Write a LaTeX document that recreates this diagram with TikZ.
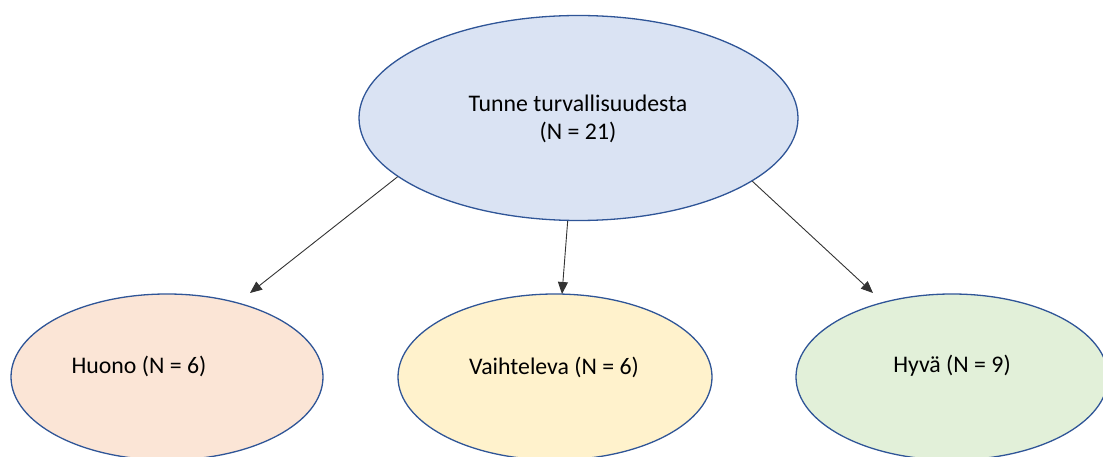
\documentclass[tikz,border=0pt]{standalone}
\usepackage{fontspec}
\setmainfont{Carlito}
\usetikzlibrary{shapes.geometric,arrows.meta}
\definecolor{edgeblue}{HTML}{2F5597}
\definecolor{fillblue}{HTML}{DAE3F3}
\definecolor{fillpeach}{HTML}{FBE5D6}
\definecolor{fillyellow}{HTML}{FFF2CC}
\definecolor{fillgreen}{HTML}{E2F0D9}
\tikzset{
  oval/.style={ellipse, draw=edgeblue, line width=1.3pt, inner sep=0pt},
  lbl/.style={font=\fontsize{23.8}{28.5}\selectfont, align=center, inner sep=0pt},
  link/.style={draw=black!80, line width=0.9pt, -{Triangle[length=12pt,width=10pt]}}
}
\begin{document}
\begin{tikzpicture}[x=1pt,y=-1pt]
  \useasboundingbox (0,0) rectangle (1103,457);
  % ovals
  \node[oval, fill=fillblue, minimum width=439pt, minimum height=205pt] (root) at (578.5,118) {};
  \node[oval, fill=fillpeach, minimum width=312pt, minimum height=166pt] (bad) at (167,377) {};
  \node[oval, fill=fillyellow, minimum width=314pt, minimum height=166pt] (mixed) at (555,377) {};
  \node[oval, fill=fillgreen, minimum width=312pt, minimum height=166pt] (good) at (952,377) {};
  % texts
  \node[lbl] (rootlbl) at (578,119) {Tunne turvallisuudesta\\(N = 21)};
  \node[lbl] (badlbl) at (139,366) {Huono (N = 6)};
  \node[lbl] (mixedlbl) at (554,367) {Vaihteleva (N = 6)};
  \node[lbl] (goodlbl) at (952,366) {Hyvä (N = 9)};
  % arrow ends
  \coordinate (badtip) at (250,293);
  \coordinate (mixedtip) at (562,294);
  \coordinate (goodtip) at (873,293);
  % connectors
  \draw[link] (root.198.9) -- (badtip);
  \draw[link] (root.264.2) -- (mixedtip);
  \draw[link] (root.340.8) -- (goodtip);
\end{tikzpicture}
\end{document}
